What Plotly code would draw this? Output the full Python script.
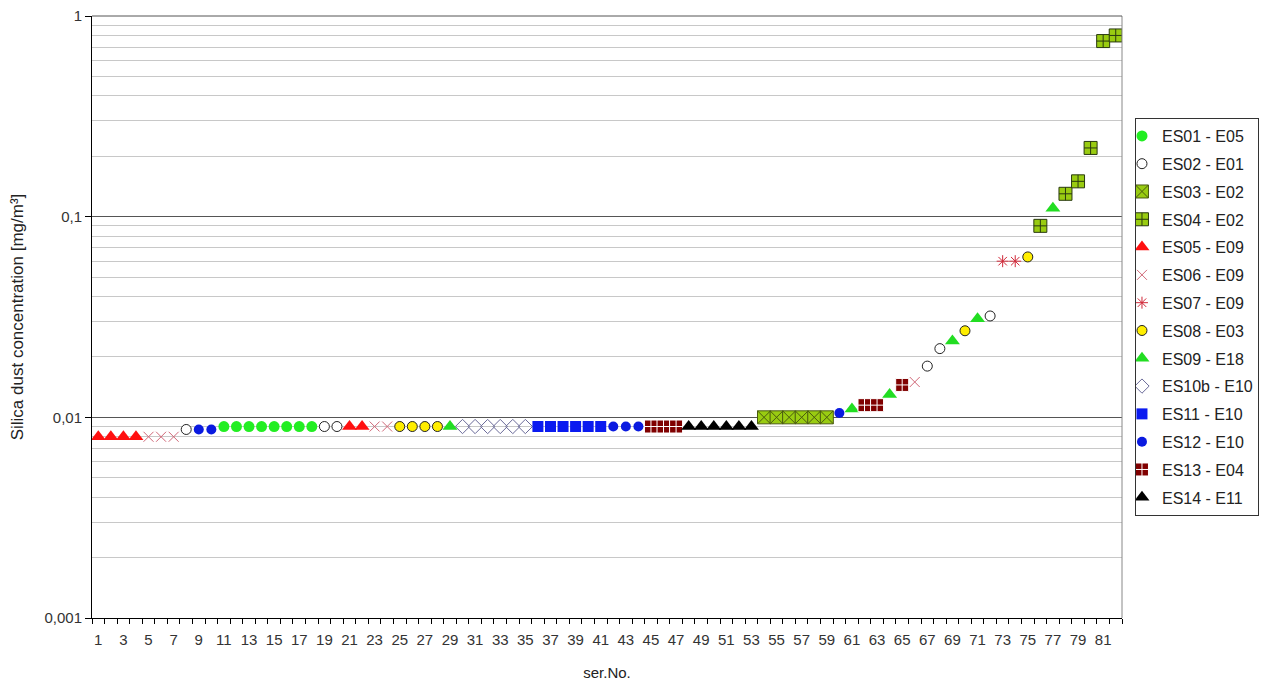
import plotly.graph_objects as go

# ---- data ----
ser_no = list(range(1, 83))
series_of_point = (
    ["ES05 - E09"] * 4 + ["ES06 - E09"] * 3 + ["ES02 - E01"] + ["ES12 - E10"] * 2 +
    ["ES01 - E05"] * 8 + ["ES02 - E01"] * 2 + ["ES05 - E09"] * 2 + ["ES06 - E09"] * 2 +
    ["ES08 - E03"] * 4 + ["ES09 - E18"] + ["ES10b - E10"] * 6 + ["ES11 - E10"] * 6 +
    ["ES12 - E10"] * 3 + ["ES13 - E04"] * 3 + ["ES14 - E11"] * 6 + ["ES03 - E02"] * 6 +
    ["ES12 - E10", "ES09 - E18", "ES13 - E04", "ES13 - E04", "ES09 - E18", "ES13 - E04",
     "ES06 - E09", "ES02 - E01", "ES02 - E01", "ES09 - E18", "ES08 - E03", "ES09 - E18",
     "ES02 - E01", "ES07 - E09", "ES07 - E09", "ES08 - E03", "ES04 - E02", "ES09 - E18",
     "ES04 - E02", "ES04 - E02", "ES04 - E02", "ES04 - E02", "ES04 - E02"]
)
concentration = (
    [0.008] * 4 + [0.008] * 3 + [0.0087] + [0.0087] * 2 +
    [0.009] * 8 + [0.009] * 2 + [0.009] * 2 + [0.009] * 2 +
    [0.009] * 4 + [0.009] + [0.009] * 6 + [0.009] * 6 +
    [0.009] * 3 + [0.009] * 3 + [0.009] * 6 + [0.01] * 6 +
    [0.0105, 0.011, 0.0115, 0.0115, 0.013, 0.0145,
     0.015, 0.018, 0.022, 0.024, 0.027, 0.031,
     0.032, 0.06, 0.06, 0.063, 0.09, 0.11,
     0.13, 0.15, 0.22, 0.75, 0.8]
)
legend_order = ["ES01 - E05", "ES02 - E01", "ES03 - E02", "ES04 - E02", "ES05 - E09",
                "ES06 - E09", "ES07 - E09", "ES08 - E03", "ES09 - E18", "ES10b - E10",
                "ES11 - E10", "ES12 - E10", "ES13 - E04", "ES14 - E11"]
y_tick_vals = [0.001, 0.01, 0.1, 1]
y_tick_text = ["0,001", "0,01", "0,1", "1"]
x_tick_vals = list(range(1, 82, 2))

# ---- styles ----
styles = {
    "ES01 - E05": dict(symbol="circle", size=11, color="#22EE22", line=dict(width=0)),
    "ES02 - E01": dict(symbol="circle", size=10, color="white", line=dict(width=1, color="#222222")),
    "ES03 - E02": dict(symbol="square-x", size=13, color="#99CC11", line=dict(width=1, color="#4A5A10")),
    "ES04 - E02": dict(symbol="square-cross", size=13, color="#99CC11", line=dict(width=1, color="#2A3A10")),
    "ES05 - E09": dict(symbol="triangle-up", size=13, color="#FF1010", line=dict(width=0)),
    "ES06 - E09": dict(symbol="x-thin-open", size=10, color="#D06878", line=dict(width=1, color="#D06878")),
    "ES07 - E09": dict(symbol="asterisk-open", size=10, color="#D02838", line=dict(width=1, color="#D02838")),
    "ES08 - E03": dict(symbol="circle", size=10, color="#FFEE00", line=dict(width=1, color="#222222")),
    "ES09 - E18": dict(symbol="triangle-up", size=13, color="#22DD22", line=dict(width=0)),
    "ES10b - E10": dict(symbol="diamond-open", size=11, color="#6A6A99", line=dict(width=1, color="#6A6A99")),
    "ES11 - E10": dict(symbol="square", size=11, color="#0A1AF0", line=dict(width=0)),
    "ES12 - E10": dict(symbol="circle", size=10, color="#0A1AE0", line=dict(width=0)),
    "ES13 - E04": dict(symbol="square-cross", size=13, color="#800000", line=dict(width=1, color="white")),
    "ES14 - E11": dict(symbol="triangle-up", size=13, color="#000000", line=dict(width=0)),
}

fig = go.Figure()
for name in legend_order:
    xs = [x for x, s in zip(ser_no, series_of_point) if s == name]
    ys = [y for y, s in zip(concentration, series_of_point) if s == name]
    fig.add_trace(go.Scatter(x=xs, y=ys, mode="markers", name=name, legendgroup=name,
                             marker=styles[name]))

font = "Arial, Liberation Sans, sans-serif"
fig.update_layout(
    width=1259, height=676,
    margin=dict(l=84, r=145, t=8, b=66),
    paper_bgcolor="white", plot_bgcolor="white",
    font=dict(family=font, size=15, color="#333333"),
    showlegend=True,
    legend=dict(x=1.0126, y=0.8306, xanchor="left", yanchor="top",
                bordercolor="#333333", borderwidth=1, bgcolor="white",
                font=dict(family=font, size=16, color="#222222"),
                traceorder="grouped", tracegroupgap=4, itemwidth=30, indentation=-14),
    xaxis=dict(range=[0.5, 82.5], tickmode="array", tickvals=x_tick_vals,
               ticktext=[str(v) for v in x_tick_vals], ticks="", showgrid=False,
               zeroline=False, showline=True, linecolor="#000000", linewidth=1,
               automargin=False, ticklabelstandoff=8, ticklabeloverflow="allow",
               tickfont=dict(size=15, color="#333333"),
               minor=dict(tickmode="array", tickvals=[v + 0.5 for v in range(0, 83)],
                          ticks="outside", ticklen=5, tickcolor="#000000", showgrid=False),
               title=dict(text="ser.No.", font=dict(size=15, color="#222222"), standoff=20)),
    yaxis=dict(type="log", range=[-3, 0], tickmode="array", tickvals=y_tick_vals,
               ticktext=y_tick_text, ticks="outside", ticklen=6, tickcolor="#000000",
               showgrid=True, gridcolor="#555555", gridwidth=1,
               zeroline=False, showline=True, linecolor="#000000", linewidth=1,
               automargin=False, ticklabeloverflow="allow",
               tickfont=dict(size=15, color="#333333"),
               minor=dict(tickmode="array",
                          tickvals=[m * 10 ** e for e in (-3, -2, -1) for m in range(2, 10)],
                          showgrid=True, gridcolor="#C8C8C8", gridwidth=1, ticks=""),
               title=dict(text="Silica dust concentration [mg/m³]",
                          font=dict(size=17, color="#222222"), standoff=22)),
    shapes=[dict(type="line", xref="paper", yref="paper", x0=1, x1=1, y0=0, y1=1,
                 line=dict(color="#888888", width=1)),
            dict(type="line", xref="paper", yref="paper", x0=0, x1=1, y0=1, y1=1,
                 line=dict(color="#555555", width=1))],
)

fig.write_html("out.html")
